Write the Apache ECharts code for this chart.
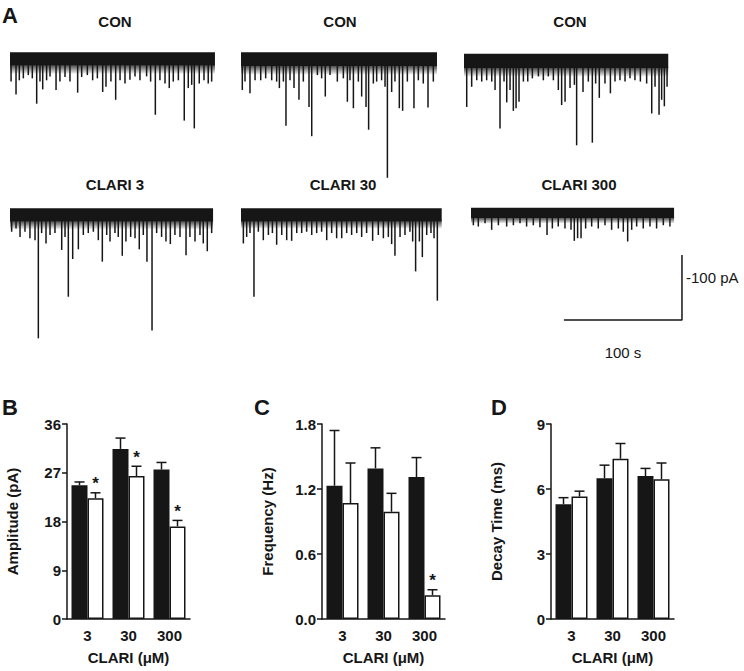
<!DOCTYPE html>
<html><head><meta charset="utf-8">
<script src="https://cdn.jsdelivr.net/npm/echarts@6/dist/echarts.min.js"></script>
<style>html,body{margin:0;padding:0;background:#fff}#c{width:744px;height:671px}</style>
</head><body><div id="c"></div>
<script>
// ---------- DATA ----------
const categories = ['3', '30', '300'];
// Panel B: amplitude (pA)
const ampCon = [24.7, 31.4, 27.6];
const ampConSem = [0.6, 2.0, 1.3];
const ampClari = [22.3, 26.4, 17.1];
const ampClariSem = [1.0, 1.8, 1.1];
const ampSig = [1, 1, 1];
// Panel C: frequency (Hz)
const freqCon = [1.23, 1.39, 1.31];
const freqConSem = [0.51, 0.19, 0.18];
const freqClari = [1.07, 0.99, 0.22];
const freqClariSem = [0.37, 0.17, 0.05];
const freqSig = [0, 0, 1];
// Panel D: decay time (ms)
const decayCon = [5.3, 6.5, 6.6];
const decayConSem = [0.3, 0.6, 0.35];
const decayClari = [5.65, 7.4, 6.45];
const decayClariSem = [0.25, 0.7, 0.75];
const decaySig = [0, 0, 0];

const ampTicks = [0, 36, 9];
const freqTicks = [0, 1.8, 0.6];
const decayTicks = [0, 9, 3];

// Panel A: recordings (time s, current pA relative to baseline)
const traceTitles = ['CON', 'CON', 'CON', 'CLARI 3', 'CLARI 30', 'CLARI 300'];
const traceDurations = [173.6, 166, 173, 172, 170, 172];
const traceBandTop = [1, 1, -1, 1, 1, 2];
const traceBandBottom = [-19, -20, -23, -19, -19, -14];
const traceFringe = [-32, -33, -36, -31, -30, -22];
const traceCon1 = [[0.9,-44],[5.1,-64],[7.9,-42],[11.3,-39],[15.5,-34],[18.9,-39],[22.6,-78],[25.4,-44],[27.7,-56],[31,-42],[33.9,-36],[39,-57],[42.3,-44],[46.6,-37],[50.8,-44],[57.3,-61],[60.7,-37],[65.5,-34],[70,-42],[74,-39],[78.5,-60],[81.3,-52],[85.5,-44],[89.5,-72],[93.2,-42],[97.4,-47],[101.6,-41],[105.9,-36],[110.1,-42],[115.7,-36],[119.1,-44],[123.1,-95],[127,-42],[131.3,-47],[134.9,-54],[138.3,-44],[142.6,-42],[147.6,-104],[151,-54],[153.9,-49],[156.1,-116],[160.3,-47],[164.3,-42],[167.9,-47],[170.8,-44]];
const traceCon2 = [[1.1,-57],[3.4,-44],[7.6,-62],[11.9,-42],[16.7,-42],[20.9,-39],[26,-42],[30.2,-44],[32.5,-54],[35.9,-44],[38.1,-112],[41.5,-42],[44.9,-54],[49.1,-72],[52.8,-44],[57.6,-83],[59.9,-128],[64.7,-34],[68.3,-39],[71.4,-67],[75.4,-34],[81.6,-44],[86.7,-39],[90.1,-75],[92.3,-42],[95.2,-85],[99.4,-44],[102.2,-67],[105.9,-83],[108.1,-118],[112.1,-47],[114.9,-44],[119.1,-42],[122,-52],[124,-192],[127.6,-60],[130.4,-44],[134.1,-85],[136.9,-89],[140.9,-44],[146.5,-85],[150.2,-42],[154.4,-47],[158.4,-84],[162.9,-44]];
const traceCon3 = [[2.3,-83],[6.5,-52],[10.8,-42],[15,-44],[19.2,-42],[23.5,-44],[26.3,-57],[30.5,-116],[33.9,-44],[36.2,-76],[39,-57],[41.8,-89],[44.1,-85],[46.6,-75],[50.3,-44],[54,-44],[57.9,-39],[63,-36],[67.2,-42],[71.4,-36],[75.7,-42],[79.9,-57],[82.7,-80],[85.6,-75],[89.8,-54],[93.5,-49],[95.4,-142],[100.8,-60],[105.3,-44],[108.7,-138],[111.5,-47],[114.6,-69],[119.4,-47],[124,-62],[127.9,-44],[132.1,-42],[136.4,-44],[140.6,-39],[144.8,-42],[149.4,-44],[154.7,-47],[159,-93],[161.8,-52],[165.2,-95],[167.4,-72],[169.7,-82],[172,-52]];
const traceClari3 = [[1.4,-35],[5.1,-30],[8.5,-43],[12.7,-35],[16.9,-45],[21.2,-48],[24,-199],[26.8,-37],[30.5,-53],[33.9,-40],[38.1,-37],[43.8,-63],[46.6,-43],[49.4,-135],[53.1,-77],[57.9,-62],[62.1,-40],[66.3,-37],[70.6,-35],[74.8,-48],[78.2,-81],[81.9,-40],[84.7,-50],[88.9,-37],[91.7,-43],[95.1,-72],[98.2,-50],[102.2,-43],[105.9,-45],[109.5,-62],[112.9,-40],[116,-81],[120.3,-187],[124.2,-37],[128.4,-43],[132.1,-50],[135.8,-54],[139.7,-40],[144,-43],[149.1,-71],[152.4,-43],[156.7,-50],[160.9,-40],[163.7,-53],[167.1,-65],[170.8,-37]];
const traceClari30 = [[2,-53],[4.8,-43],[7.6,-37],[11,-135],[14.7,-35],[18.9,-48],[23.2,-40],[26.6,-37],[30.2,-55],[34.5,-40],[38.7,-48],[42.9,-49],[47.2,-37],[51.4,-37],[55.6,-35],[59.9,-40],[64.1,-37],[68.3,-35],[72.6,-48],[76.8,-37],[81,-45],[85.3,-45],[89.5,-37],[93.7,-40],[98,-37],[102.2,-43],[106.4,-37],[111.5,-49],[116.3,-40],[120.6,-45],[124.8,-43],[127.6,-54],[130.4,-72],[134.7,-43],[138.9,-40],[143.1,-35],[145.4,-50],[147.9,-96],[151.1,-50],[153.6,-74],[157.3,-40],[160.9,-37],[163.5,-45],[166.3,-141]];
const traceClari300 = [[2,-25],[6.2,-27],[11.9,-22],[17.5,-32],[23.2,-25],[30.2,-27],[35.9,-25],[41.5,-22],[47.1,-27],[52.8,-25],[58.4,-28],[64.4,-40],[68.9,-30],[73.9,-27],[79.6,-30],[84.7,-32],[87.5,-49],[90.3,-45],[93.2,-45],[97.1,-30],[102.2,-27],[107.8,-30],[113.5,-25],[119.1,-32],[124.8,-30],[129,-35],[132.7,-50],[136.1,-32],[140.3,-27],[145.9,-30],[151.6,-27],[157.2,-30],[162.9,-25],[168.5,-27]];
const traces = [traceCon1, traceCon2, traceCon3, traceClari3, traceClari30, traceClari300];
// scale bar: 100 s, 100 pA, corner at (178.7 s, -170.7 pA) of last recording frame
const scaleBarTime = 100, scaleBarCurrent = 100;
const scaleBarCornerT = 178.7, scaleBarCornerI = -170.7;

// ---------- LAYOUT ----------
const FONT = '"Liberation Sans", Arial, sans-serif';
const INK = '#161616';
const PX_PER_S = 1 / 0.847;
const PX_PER_PA = 0.65;
const Y_MAX = 10, Y_MIN = -205;
const traceLeft = [10, 241, 464, 10, 241, 471];
const traceTop = [46.5, 46.5, 46.5, 202.5, 202.5, 202.5];
const traceXMax = [173.6, 166, 173, 172, 170, 182];
const titlePos = [[115,21],[340,21],[570,21],[115,184],[343,184],[579,184]];

const grids = [], xAxes = [], yAxes = [], series = [];
traces.forEach((spk, i) => {
  grids.push({left: traceLeft[i], top: traceTop[i], width: traceXMax[i] * PX_PER_S, height: (Y_MAX - Y_MIN) * PX_PER_PA});
  xAxes.push({gridIndex: i, type: 'value', min: 0, max: traceXMax[i], show: false});
  yAxes.push({gridIndex: i, type: 'value', min: Y_MIN, max: Y_MAX, show: false});
  const bt = traceBandTop[i], bb = traceBandBottom[i], fr = traceFringe[i];
  series.push({
    type: 'custom', xAxisIndex: i, yAxisIndex: i, silent: true, clip: false,
    data: [[0, traceDurations[i]]],
    renderItem: (p, api) => {
      const a = api.coord([api.value(0), bt]);
      const b = api.coord([api.value(1), bb]);
      const f = api.coord([api.value(1), fr]);
      return {type: 'group', children: [
        {type: 'rect', shape: {x: a[0], y: b[1] - 1, width: b[0] - a[0], height: f[1] - b[1] + 1},
          style: {fill: new echarts.graphic.LinearGradient(0, 0, 0, 1, [
            {offset: 0, color: 'rgba(22,22,22,0.85)'}, {offset: 1, color: 'rgba(22,22,22,0.05)'}])}},
        {type: 'rect', shape: {x: a[0], y: a[1], width: b[0] - a[0], height: b[1] - a[1]}, style: {fill: INK}}
      ]};
    }
  });
  series.push({
    type: 'custom', xAxisIndex: i, yAxisIndex: i, silent: true, clip: false,
    data: spk,
    renderItem: (p, api) => {
      const a = api.coord([api.value(0), bb + 2]);
      const b = api.coord([api.value(0), api.value(1)]);
      return {type: 'line', shape: {x1: a[0], y1: a[1], x2: b[0], y2: b[1]}, style: {stroke: INK, lineWidth: 1.5}};
    }
  });
});
// scale bar in last recording frame
series.push({
  type: 'line', xAxisIndex: 5, yAxisIndex: 5, silent: true, symbol: 'none', clip: false,
  lineStyle: {color: INK, width: 1.5},
  data: [[scaleBarCornerT - scaleBarTime, scaleBarCornerI], [scaleBarCornerT, scaleBarCornerI], [scaleBarCornerT, scaleBarCornerI + scaleBarCurrent]]
});

// bar panels
const panels = [
  {left: 67, name: 'Amplitude (pA)', con: ampCon, conSem: ampConSem, cl: ampClari, clSem: ampClariSem, sig: ampSig, ticks: ampTicks, dec: 0},
  {left: 322, name: 'Frequency (Hz)', con: freqCon, conSem: freqConSem, cl: freqClari, clSem: freqClariSem, sig: freqSig, ticks: freqTicks, dec: 1},
  {left: 551, name: 'Decay Time (ms)', con: decayCon, conSem: decayConSem, cl: decayClari, clSem: decayClariSem, sig: decaySig, ticks: decayTicks, dec: 0}
];
const axisLineStyle = {color: INK, width: 1.5};
const labelStyle = {color: INK, fontFamily: FONT, fontWeight: 'bold', fontSize: 15};
function errRender(offset) {
  return (p, api) => {
    const c = api.coord([api.value(0), api.value(1)]);
    const t = api.coord([api.value(0), api.value(1) + api.value(2)]);
    const x = c[0] + offset;
    const ch = [
      {type: 'line', shape: {x1: x, y1: c[1], x2: x, y2: t[1]}, style: {stroke: INK, lineWidth: 1.5}},
      {type: 'line', shape: {x1: x - 5, y1: t[1], x2: x + 5, y2: t[1]}, style: {stroke: INK, lineWidth: 1.5}}
    ];
    if (api.value(3)) ch.push({type: 'text', style: {text: '*', x: x, y: t[1] - 9, align: 'center', verticalAlign: 'middle', font: 'bold 17px ' + FONT, fill: INK}});
    return {type: 'group', children: ch};
  };
}
panels.forEach((pn, k) => {
  const gi = 6 + k;
  grids.push({left: pn.left, top: 424, width: 123, height: 195});
  xAxes.push({gridIndex: gi, type: 'category', data: categories,
    axisLine: {lineStyle: axisLineStyle}, axisTick: {alignWithLabel: true, length: 5, lineStyle: axisLineStyle},
    axisLabel: Object.assign({margin: 9}, labelStyle),
    name: 'CLARI (μM)', nameLocation: 'middle', nameGap: 31, nameTextStyle: labelStyle});
  yAxes.push({gridIndex: gi, type: 'value', min: pn.ticks[0], max: pn.ticks[1], interval: pn.ticks[2],
    axisLine: {show: true, lineStyle: axisLineStyle}, axisTick: {show: true, length: 5, lineStyle: axisLineStyle},
    splitLine: {show: false},
    axisLabel: Object.assign({margin: 6, formatter: v => v.toFixed(pn.dec)}, labelStyle),
    name: pn.name, nameLocation: 'middle', nameGap: 47, nameTextStyle: labelStyle});
  series.push({type: 'bar', xAxisIndex: gi, yAxisIndex: gi, data: pn.con, barWidth: 16, barGap: '0%',
    itemStyle: {color: INK, borderColor: INK, borderWidth: 1.5}, silent: true});
  series.push({type: 'bar', xAxisIndex: gi, yAxisIndex: gi, data: pn.cl, barWidth: 16, barGap: '0%',
    itemStyle: {color: '#fff', borderColor: INK, borderWidth: 1.5}, silent: true});
  series.push({type: 'custom', xAxisIndex: gi, yAxisIndex: gi, silent: true, clip: false, z: 5,
    data: pn.con.map((v, i) => [i, v, pn.conSem[i], 0]), renderItem: errRender(-8)});
  series.push({type: 'custom', xAxisIndex: gi, yAxisIndex: gi, silent: true, clip: false, z: 5,
    data: pn.cl.map((v, i) => [i, v, pn.clSem[i], pn.sig[i]]), renderItem: errRender(8)});
});

const texts = [];
traceTitles.forEach((t, i) => texts.push({type: 'text', x: titlePos[i][0], y: titlePos[i][1],
  style: {text: t, align: 'center', verticalAlign: 'middle', font: 'bold 15px ' + FONT, fill: INK}}));
[['A', 2, 15], ['B', 2, 407], ['C', 254, 407], ['D', 491, 407]].forEach(l => texts.push({type: 'text', x: l[1], y: l[2],
  style: {text: l[0], align: 'left', verticalAlign: 'middle', font: 'bold 22px ' + FONT, fill: INK}}));
texts.push({type: 'text', x: 686, y: 277, style: {text: '-100 pA', align: 'left', verticalAlign: 'middle', font: '15px ' + FONT, fill: INK}});
texts.push({type: 'text', x: 623, y: 352, style: {text: '100 s', align: 'center', verticalAlign: 'middle', font: '15px ' + FONT, fill: INK}});

const chart = echarts.init(document.getElementById('c'), null, {renderer: 'svg', width: 744, height: 671});
chart.setOption({
  animation: false, backgroundColor: '#fff',
  grid: grids, xAxis: xAxes, yAxis: yAxes, series: series, graphic: texts
});
</script></body></html>
